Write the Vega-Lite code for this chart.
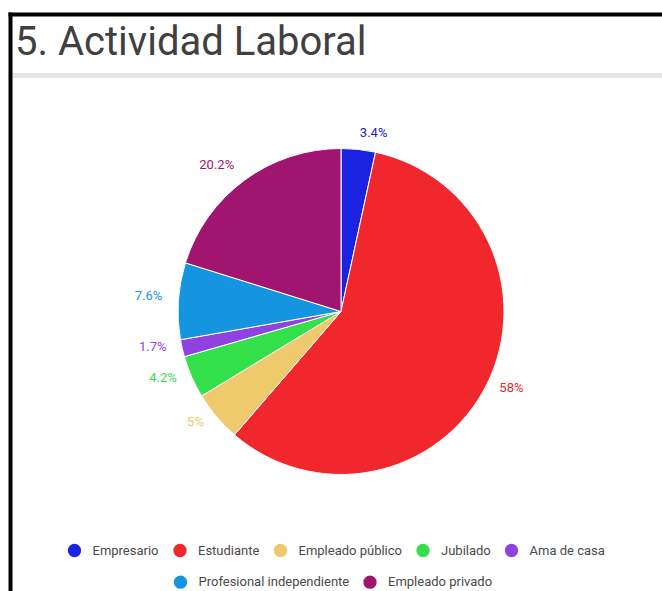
{
  "$schema": "https://vega.github.io/schema/vega-lite/v6.json",
  "width": 652,
  "height": 577,
  "autosize": "none",
  "padding": {"left": 10, "top": 14, "right": 0, "bottom": 0},
  "background": "white",
  "title": {
    "text": "5. Actividad Laboral",
    "anchor": "start",
    "frame": "group",
    "font": "Roboto",
    "fontSize": 40,
    "fontWeight": "normal",
    "color": "#404040",
    "baseline": "alphabetic",
    "offset": -41,
    "dy": 40,
    "dx": 5
  },
  "data": {
    "values": [
      {"actividad": "Empresario", "porcentaje": 3.4, "etiqueta": "3.4%"},
      {"actividad": "Estudiante", "porcentaje": 58, "etiqueta": "58%"},
      {"actividad": "Empleado público", "porcentaje": 5, "etiqueta": "5%"},
      {"actividad": "Jubilado", "porcentaje": 4.2, "etiqueta": "4.2%"},
      {"actividad": "Ama de casa", "porcentaje": 1.7, "etiqueta": "1.7%"},
      {"actividad": "Profesional independiente", "porcentaje": 7.6, "etiqueta": "7.6%"},
      {"actividad": "Empleado privado", "porcentaje": 20.2, "etiqueta": "20.2%"}
    ]
  },
  "transform": [{"window": [{"op": "row_number", "as": "orden"}]}],
  "layer": [
    {
      "transform": [{"filter": {"field": "actividad", "oneOf": ["Empresario", "Estudiante", "Empleado público", "Jubilado", "Ama de casa"]}}],
      "mark": {"type": "arc", "opacity": 0, "radius": 0},
      "encoding": {
        "x": {"datum": 0, "type": "quantitative", "scale": {"domain": [0, 1]},
          "axis": {"orient": "top", "domainColor": "black", "domainWidth": 4, "domainCap": "square", "ticks": false, "labels": false, "grid": false, "title": null}},
        "y": {"datum": 0, "type": "quantitative", "scale": {"domain": [0, 577], "reverse": true},
          "axis": {"orient": "left", "values": [60.5], "grid": true, "gridColor": "#e6e6e6", "gridWidth": 5, "ticks": false, "labels": false, "domainColor": "black", "domainWidth": 4, "domainCap": "square", "title": null}},
        "color": {
          "field": "actividad", "type": "nominal",
          "scale": {"domain": ["Empresario", "Estudiante", "Empleado público", "Jubilado", "Ama de casa"],
                    "range": ["#1c23e0", "#f0272d", "#eeca6c", "#33e04a", "#8f42e0"]},
          "legend": {"orient": "none", "legendX": 57.5, "legendY": 529.5, "direction": "horizontal", "title": null,
            "symbolType": "circle", "symbolSize": 177, "symbolStrokeWidth": 0, "symbolOpacity": 1,
            "labelFont": "Roboto", "labelFontSize": 13, "labelColor": "#4a4a4a", "labelOffset": 11, "columnPadding": 13.5, "padding": 0}
        }
      }
    },
    {
      "transform": [{"filter": {"field": "actividad", "oneOf": ["Profesional independiente", "Empleado privado"]}}],
      "mark": {"type": "arc", "opacity": 0, "radius": 0},
      "encoding": {
        "color": {
          "field": "actividad", "type": "nominal",
          "scale": {"domain": ["Profesional independiente", "Empleado privado"], "range": ["#1594e0", "#a01570"]},
          "legend": {"orient": "none", "legendX": 163.5, "legendY": 561.2, "direction": "horizontal", "title": null,
            "symbolType": "circle", "symbolSize": 177, "symbolStrokeWidth": 0, "symbolOpacity": 1,
            "labelFont": "Roboto", "labelFontSize": 13, "labelColor": "#4a4a4a", "labelOffset": 11, "columnPadding": 13.5, "padding": 0}
        }
      }
    },
    {
      "mark": {"type": "arc", "radius": 163, "stroke": "white", "strokeWidth": 1, "xOffset": 5, "yOffset": 9},
      "encoding": {
        "theta": {"field": "porcentaje", "type": "quantitative", "stack": true},
        "order": {"field": "orden", "type": "quantitative"},
        "color": {
          "field": "actividad", "type": "nominal",
          "scale": {"domain": ["Empresario", "Estudiante", "Empleado público", "Jubilado", "Ama de casa", "Profesional independiente", "Empleado privado"],
                    "range": ["#1c23e0", "#f0272d", "#eeca6c", "#33e04a", "#8f42e0", "#1594e0", "#a01570"]},
          "legend": null
        }
      }
    },
    {
      "mark": {"type": "text", "radius": 177, "align": "left", "baseline": "middle", "font": "Roboto", "fontSize": 13, "dx": 5, "dy": 6},
      "encoding": {
        "theta": {"field": "porcentaje", "type": "quantitative", "stack": true},
        "order": {"field": "orden", "type": "quantitative"},
        "color": {
          "field": "actividad", "type": "nominal",
          "scale": {"domain": ["Empresario", "Estudiante", "Empleado público", "Jubilado", "Ama de casa", "Profesional independiente", "Empleado privado"],
                    "range": ["#1c23e0", "#f0272d", "#eeca6c", "#33e04a", "#8f42e0", "#1594e0", "#a01570"]},
          "legend": null
        },
        "text": {"condition": {"test": "datum.actividad == 'Empresario' || datum.actividad == 'Estudiante'", "field": "etiqueta", "type": "nominal"}, "value": ""}
      }
    },
    {
      "mark": {"type": "text", "radius": 177, "align": "right", "baseline": "middle", "font": "Roboto", "fontSize": 13, "dx": 3, "dy": 5},
      "encoding": {
        "theta": {"field": "porcentaje", "type": "quantitative", "stack": true},
        "order": {"field": "orden", "type": "quantitative"},
        "color": {
          "field": "actividad", "type": "nominal",
          "scale": {"domain": ["Empresario", "Estudiante", "Empleado público", "Jubilado", "Ama de casa", "Profesional independiente", "Empleado privado"],
                    "range": ["#1c23e0", "#f0272d", "#eeca6c", "#33e04a", "#8f42e0", "#1594e0", "#a01570"]},
          "legend": null
        },
        "text": {"condition": {"test": "datum.actividad != 'Empresario' && datum.actividad != 'Estudiante'", "field": "etiqueta", "type": "nominal"}, "value": ""}
      }
    }
  ],
  "resolve": {"scale": {"color": "independent"}},
  "config": {"view": {"stroke": null}, "font": "Roboto"}
}
